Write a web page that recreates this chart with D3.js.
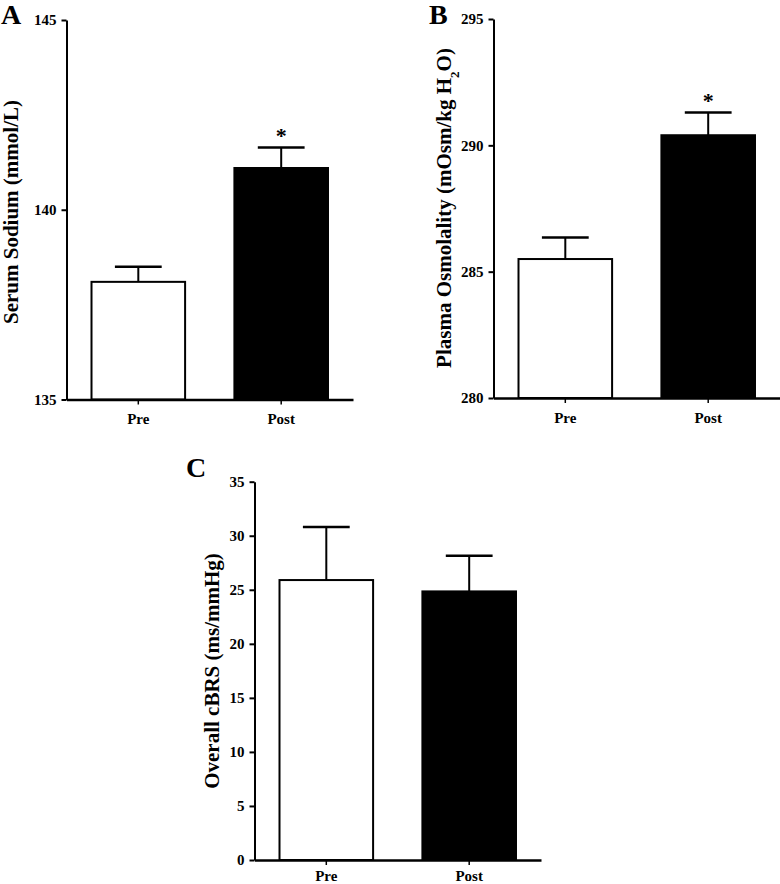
<!DOCTYPE html>
<html>
<head>
<meta charset="utf-8">
<script src="https://cdn.jsdelivr.net/npm/d3@7"></script>
<style>
  html, body { margin: 0; padding: 0; background: #fff; }
  svg { display: block; }
  text { font-family: "Liberation Serif", "Times New Roman", serif; font-weight: bold; fill: #000; }
</style>
</head>
<body>
<script>
// ---- data ----
const categories = ["Pre", "Post"];

const sodiumMean = [138.1, 141.1];
const sodiumSEM  = [0.4, 0.54];
const sodiumSig  = ["", "*"];
const sodiumTicks = [135, 140, 145];

const osmoMean = [285.5, 290.4];
const osmoSEM  = [0.85, 0.9];
const osmoSig  = ["", "*"];
const osmoTicks = [280, 285, 290, 295];

const cbrsMean = [25.9, 24.85];
const cbrsSEM  = [4.9, 3.3];
const cbrsSig  = ["", ""];
const cbrsTicks = [0, 5, 10, 15, 20, 25, 30, 35];

const fills = ["#ffffff", "#000000"];

// ---- drawing ----
const svg = d3.select("body").append("svg")
  .attr("width", 780).attr("height", 884);

function panel(cfg) {
  const g = svg.append("g");
  const x = d3.scaleBand().domain(categories)
    .range([cfg.x0, cfg.x1]).paddingInner(0.345).paddingOuter(0.175);
  const y = d3.scaleLinear().domain(cfg.domain).range([cfg.yBottom, cfg.yTop]);
  const bw = x.bandwidth();

  // bars
  g.selectAll("rect.bar").data(categories).join("rect")
    .attr("x", d => x(d))
    .attr("y", (d, i) => y(cfg.mean[i]))
    .attr("width", bw)
    .attr("height", (d, i) => y(cfg.domain[0]) - y(cfg.mean[i]))
    .attr("fill", (d, i) => fills[i])
    .attr("stroke", "#000").attr("stroke-width", 2);

  // error bars (upward only)
  const eb = g.selectAll("g.err").data(categories).join("g");
  eb.append("line")
    .attr("x1", d => x(d) + bw / 2).attr("x2", d => x(d) + bw / 2)
    .attr("y1", (d, i) => y(cfg.mean[i]))
    .attr("y2", (d, i) => y(cfg.mean[i] + cfg.sem[i]))
    .attr("stroke", "#000").attr("stroke-width", 2);
  eb.append("line")
    .attr("x1", d => x(d) + bw / 2 - bw * 0.25).attr("x2", d => x(d) + bw / 2 + bw * 0.25)
    .attr("y1", (d, i) => y(cfg.mean[i] + cfg.sem[i]))
    .attr("y2", (d, i) => y(cfg.mean[i] + cfg.sem[i]))
    .attr("stroke", "#000").attr("stroke-width", 2.5);

  // significance marks
  g.selectAll("text.sig").data(categories).join("text")
    .attr("x", d => x(d) + bw / 2)
    .attr("y", (d, i) => y(cfg.mean[i] + cfg.sem[i]) - 4.5)
    .attr("text-anchor", "middle")
    .style("font-size", "22px")
    .text((d, i) => cfg.sig[i]);

  // y axis
  const ya = g.append("g").attr("transform", `translate(${cfg.x0},0)`)
    .call(d3.axisLeft(y).tickValues(cfg.ticks).tickSize(5).tickSizeOuter(0).tickPadding(5).tickFormat(d3.format("d")));
  ya.select(".domain").attr("stroke-width", 2);
  ya.selectAll(".tick line").attr("stroke-width", 2);
  ya.selectAll(".tick text").style("font-size", "15px").style("font-family", "Liberation Serif").style("font-weight", "bold");

  // x axis
  const xa = g.append("g").attr("transform", `translate(0,${cfg.yBottom})`)
    .call(d3.axisBottom(x).tickSize(5).tickSizeOuter(0).tickPadding(cfg.xPad));
  xa.select(".domain").attr("stroke-width", 2.5);
  xa.selectAll(".tick line").attr("stroke-width", 1.5);
  xa.selectAll(".tick text").style("font-size", "15px").style("font-family", "Liberation Serif").style("font-weight", "bold");

  // y title
  const t = g.append("text")
    .attr("transform", `translate(${cfg.titleX},${cfg.titleY}) rotate(-90)`)
    .attr("text-anchor", "middle")
    .style("font-size", "21px");
  cfg.title.forEach(p => {
    const ts = t.append("tspan").text(p.t);
    if (p.sub) ts.style("font-size", "13px").attr("baseline-shift", "sub");
  });

  // panel letter
  g.append("text").attr("x", cfg.letterX).attr("y", cfg.letterY)
    .style("font-size", "28px").text(cfg.letter);
}

panel({
  x0: 66.5, x1: 353, yBottom: 399.5, yTop: 20, domain: [135, 145],
  mean: sodiumMean, sem: sodiumSEM, sig: sodiumSig, ticks: sodiumTicks, xPad: 9,
  title: [{t: "Serum Sodium (mmol/L)"}], titleX: 17.5, titleY: 212,
  letter: "A", letterX: 1, letterY: 24
});

panel({
  x0: 493.5, x1: 780, yBottom: 398, yTop: 19, domain: [280, 295],
  mean: osmoMean, sem: osmoSEM, sig: osmoSig, ticks: osmoTicks, xPad: 9,
  title: [{t: "Plasma Osmolality (mOsm/kg H"}, {t: "2", sub: true}, {t: "O)"}], titleX: 451, titleY: 208,
  letter: "B", letterX: 429, letterY: 24
});

panel({
  x0: 254.5, x1: 541, yBottom: 860, yTop: 481.7, domain: [0, 35],
  mean: cbrsMean, sem: cbrsSEM, sig: cbrsSig, ticks: cbrsTicks, xPad: 5,
  title: [{t: "Overall cBRS (ms/mmHg)"}], titleX: 219, titleY: 671,
  letter: "C", letterX: 186, letterY: 477
});
</script>
</body>
</html>
